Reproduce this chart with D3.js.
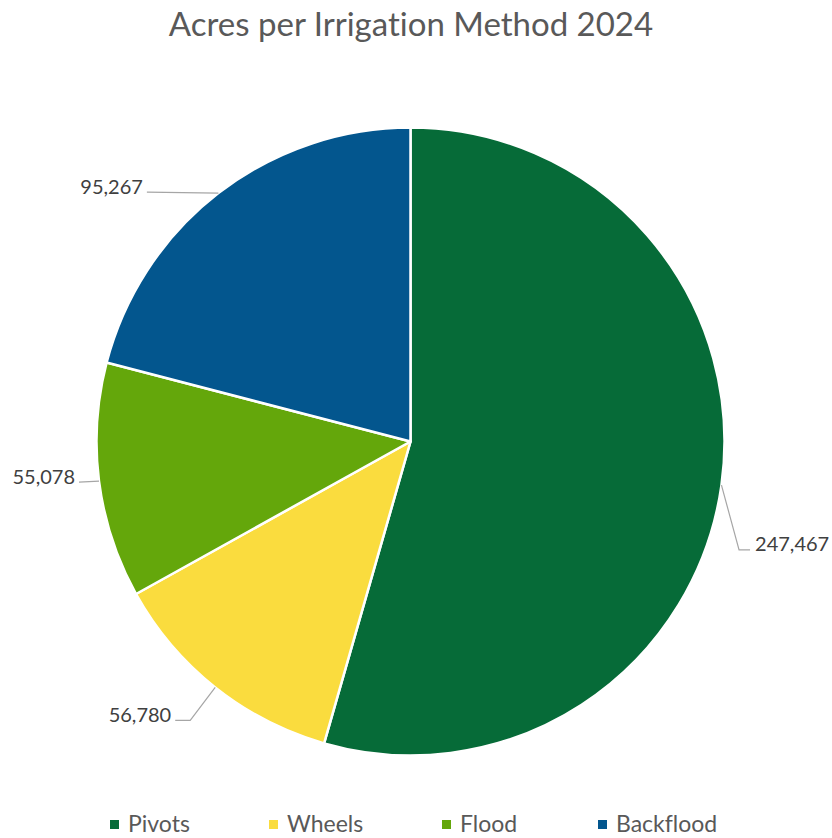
<!DOCTYPE html>
<html>
<head>
<meta charset="utf-8">
<script src="https://cdn.jsdelivr.net/npm/d3@7"></script>
<style>
  html, body { margin: 0; padding: 0; background: #ffffff; }
  svg { display: block; }
  text { font-family: Lato, "Open Sans", "Noto Sans", sans-serif; font-variant-ligatures: none; }
</style>
</head>
<body>
<svg id="chart" width="832" height="838"></svg>
<script>
// Irrigated acreage by method, 2024
const categories = ["Pivots", "Wheels", "Flood", "Backflood"];
const acres = [247467, 56780, 55078, 95267];
const colors = ["#066B38", "#FADC3E", "#64A70B", "#03568E"];

// Layout
const W = 832, H = 838;
const cx = 410.5, cy = 441.5, radius = 314;
// leader end relative to the slice's edge midpoint, plus horizontal elbow length
const leaderOffsets = [[28.6, 64.8, 11], [-40, 33, 15], [-20, 1, 0], [-71.5, -1, 0]];
const legendX = [110, 269, 442, 598];

const svg = d3.select("#chart");
const fmt = d3.format(",");

svg.append("text")
  .attr("x", 411).attr("y", 36)
  .attr("text-anchor", "middle")
  .attr("fill", "#595959")
  .style("font-size", "33px")
  .text("Acres per Irrigation Method 2024");

const data = categories.map((c, i) => ({ name: c, value: acres[i], color: colors[i], idx: i }));
const pie = d3.pie().sort(null).value(d => d.value);
const arcs = pie(data);
const arcGen = d3.arc().innerRadius(0).outerRadius(radius);

const g = svg.append("g").attr("transform", `translate(${cx},${cy})`);
g.selectAll("path.slice")
  .data(arcs)
  .join("path")
  .attr("class", "slice")
  .attr("d", arcGen)
  .attr("fill", d => d.data.color)
  .attr("stroke", "#ffffff")
  .attr("stroke-width", 2.5)
  .attr("stroke-linejoin", "round");

// data labels with leader lines
arcs.forEach(a => {
  const mid = (a.startAngle + a.endAngle) / 2;
  const px = radius * Math.sin(mid), py = -radius * Math.cos(mid);
  const [dx, dy, h] = leaderOffsets[a.data.idx];
  const ex = px + dx, ey = py + dy;
  const right = dx > 0;
  const elbowX = right ? ex - h : ex + h;
  g.append("polyline")
    .attr("points", [[px, py], [elbowX, ey], [ex, ey]].map(p => p.join(",")).join(" "))
    .attr("fill", "none")
    .attr("stroke", "#A6A6A6")
    .attr("stroke-width", 1.2);
  g.append("text")
    .attr("x", right ? ex + 5 : ex - 4)
    .attr("y", ey + 1.5)
    .attr("text-anchor", right ? "start" : "end")
    .attr("fill", "#404040")
    .style("font-size", "20px")
    .text(fmt(a.data.value));
});

// legend
const legend = svg.append("g");
data.forEach((d, i) => {
  legend.append("rect")
    .attr("x", legendX[i]).attr("y", 820)
    .attr("width", 9).attr("height", 9)
    .attr("fill", d.color);
  legend.append("text")
    .attr("x", legendX[i] + 18).attr("y", 832)
    .attr("fill", "#595959")
    .style("font-size", "23px")
    .text(d.name);
});
</script>
</body>
</html>
